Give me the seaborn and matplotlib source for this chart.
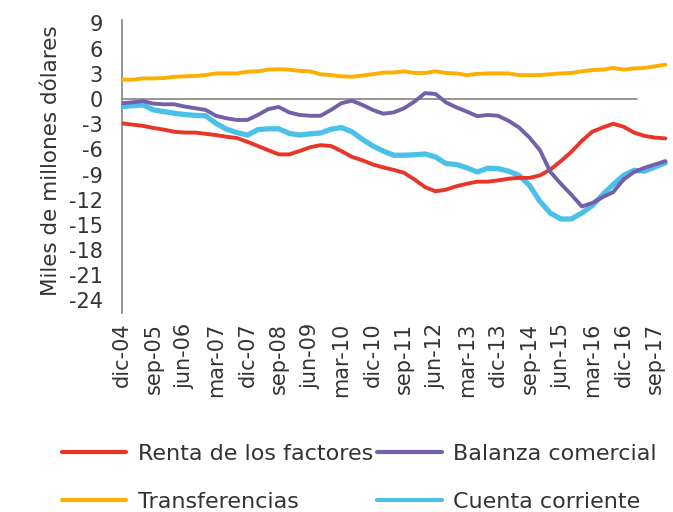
import numpy as np
import pandas as pd
import seaborn as sns
import matplotlib.pyplot as plt
from matplotlib.lines import Line2D

# quarterly data, dic-04 .. dic-17 (miles de millones de dolares)
tick_labels = ['dic-04', 'sep-05', 'jun-06', 'mar-07', 'dic-07', 'sep-08',
               'jun-09', 'mar-10', 'dic-10', 'sep-11', 'jun-12', 'mar-13',
               'dic-13', 'sep-14', 'jun-15', 'mar-16', 'dic-16', 'sep-17']

renta = [-2.9, -3.05, -3.2, -3.45, -3.65, -3.9, -4.0, -4.0, -4.15, -4.3,
         -4.5, -4.65, -5.1, -5.6, -6.1, -6.6, -6.6, -6.2, -5.75, -5.5,
         -5.6, -6.2, -6.9, -7.3, -7.8, -8.15, -8.45, -8.8, -9.6, -10.5,
         -11.0, -10.8, -10.4, -10.1, -9.85, -9.85, -9.7, -9.5, -9.4, -9.4,
         -9.1, -8.4, -7.4, -6.3, -5.0, -3.9, -3.4, -2.95, -3.3, -4.0,
         -4.4, -4.6, -4.7]

balanza = [-0.5, -0.4, -0.25, -0.55, -0.63, -0.63, -0.9, -1.1, -1.3, -2.0,
           -2.3, -2.5, -2.5, -1.9, -1.2, -0.95, -1.6, -1.9, -2.0, -2.0,
           -1.3, -0.5, -0.2, -0.7, -1.3, -1.75, -1.6, -1.1, -0.3, 0.7,
           0.6, -0.4, -1.0, -1.5, -2.05, -1.9, -2.0, -2.6, -3.4, -4.6,
           -6.1, -8.7, -10.1, -11.4, -12.8, -12.4, -11.7, -11.1, -9.6, -8.7,
           -8.2, -7.8, -7.4]

transferencias = [2.3, 2.3, 2.45, 2.45, 2.5, 2.65, 2.7, 2.75, 2.85, 3.05,
                  3.05, 3.05, 3.25, 3.3, 3.5, 3.55, 3.5, 3.35, 3.3, 2.95,
                  2.85, 2.7, 2.65, 2.8, 2.95, 3.15, 3.15, 3.3, 3.1, 3.1,
                  3.3, 3.1, 3.05, 2.85, 3.0, 3.05, 3.05, 3.05, 2.85, 2.85,
                  2.85, 2.95, 3.05, 3.1, 3.3, 3.45, 3.5, 3.7, 3.5, 3.65,
                  3.7, 3.9, 4.1]

cuenta = [-0.9, -0.8, -0.7, -1.3, -1.5, -1.7, -1.85, -1.95, -2.0, -2.9,
          -3.6, -4.0, -4.3, -3.65, -3.55, -3.55, -4.1, -4.3, -4.15, -4.05,
          -3.6, -3.4, -3.9, -4.8, -5.6, -6.2, -6.7, -6.7, -6.65, -6.55,
          -6.9, -7.7, -7.8, -8.2, -8.7, -8.25, -8.3, -8.6, -9.1, -10.3,
          -12.2, -13.6, -14.3, -14.3, -13.6, -12.7, -11.4, -10.2, -9.1, -8.5,
          -8.6, -8.1, -7.6]

df = pd.DataFrame({
    'trimestre': np.arange(len(renta)),
    'Renta de los factores': renta,
    'Balanza comercial': balanza,
    'Transferencias': transferencias,
    'Cuenta corriente': cuenta,
})

colors = {
    'Renta de los factores': '#E8352A',
    'Balanza comercial': '#7460A8',
    'Transferencias': '#FBB000',
    'Cuenta corriente': '#4BC1E8',
}
widths = {'Cuenta corriente': 3.8, 'Renta de los factores': 2.8,
          'Transferencias': 2.8, 'Balanza comercial': 2.8}

sns.set_style('white')
plt.rcParams['font.family'] = ['DejaVu Sans']
plt.rcParams['axes.unicode_minus'] = False
txt = '#333333'

fig = plt.figure(figsize=(6.73, 5.12), dpi=100)
ax = fig.add_axes([0.1813, 0.3887, 0.812, 0.572])

ax.axhline(0, xmin=0, xmax=0.943, color='#8c8c8c', lw=1.3, zorder=1)

# drawing order: cyan at the back, purple on top
for name in ['Cuenta corriente', 'Renta de los factores', 'Transferencias', 'Balanza comercial']:
    sns.lineplot(data=df, x='trimestre', y=name, color=colors[name],
                 linewidth=widths[name], ax=ax, legend=False, zorder=3)

ax.set_xlim(0, 52.3)
ax.set_ylim(-25.5, 9.4)

yt = list(range(9, -25, -3))
ax.set_yticks(yt)
ax.set_yticklabels([str(v) for v in yt], fontsize=15, color=txt)
ax.set_xticks(np.arange(len(tick_labels)) * 3)
ax.set_xticklabels(tick_labels, rotation=90, fontsize=15, color=txt)
ax.tick_params(axis='both', length=0)
ax.tick_params(axis='y', pad=14)
ax.tick_params(axis='x', pad=7)

ax.set_xlabel('')
ax.set_ylabel('Miles de millones dólares', fontsize=15.5, color=txt)
ax.yaxis.set_label_coords(-0.112, 0.519)

for s in ['top', 'right', 'bottom']:
    ax.spines[s].set_visible(False)
ax.spines['left'].set_color('#8c8c8c')
ax.spines['left'].set_linewidth(1.3)

order = ['Renta de los factores', 'Transferencias', 'Balanza comercial', 'Cuenta corriente']
handles = [Line2D([], [], color=colors[n], lw=3) for n in order]
leg = fig.legend(handles, order, ncol=2, loc='upper left',
                 bbox_to_anchor=(62 / 673, 1 - 444 / 512), frameon=False,
                 fontsize=16, handlelength=2.9, handletextpad=0.5,
                 columnspacing=0.2, labelspacing=1.25, borderpad=0,
                 borderaxespad=0)
for t in leg.get_texts():
    t.set_color(txt)

fig.savefig('out.png', dpi=100)
